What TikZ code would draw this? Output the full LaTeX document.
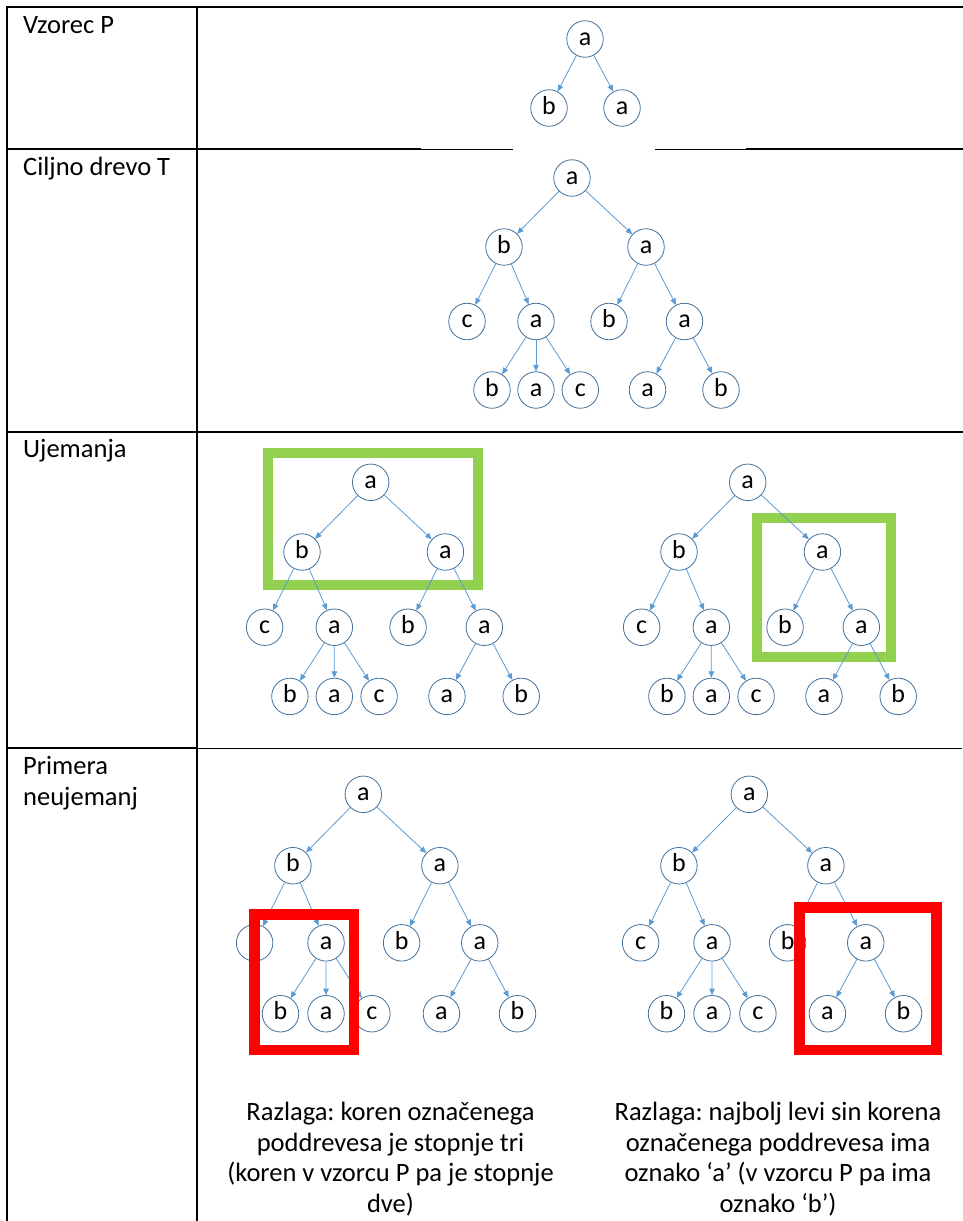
\documentclass[tikz,border=0pt]{standalone}
\usepackage{fontspec}
\setmainfont{Carlito}
\frenchspacing
\usetikzlibrary{arrows.meta}
\definecolor{nodeline}{HTML}{41719C}
\definecolor{edgeblue}{HTML}{5B9BD5}
\definecolor{matchgreen}{HTML}{92D050}
\definecolor{failred}{HTML}{FF0000}

% one full target tree: #1 name prefix, #2/#3 root position, #4 spread
\newcommand\targettree[4]{%
  \begin{scope}[shift={(#2,#3)}, scale=#4]
    \node[vert] (#1r)  at (0,0)         {a};
    \node[vert] (#1b1) at (-68,69)      {b};
    \node[vert] (#1a1) at (74,69)       {a};
    \node[vert] (#1c2) at (-105,143.5)  {c};
    \node[vert] (#1a2) at (-36,143.5)   {a};
    \node[vert] (#1b2) at (37,143.5)    {b};
    \node[vert] (#1a3) at (112.5,143.5) {a};
    \node[vert] (#1b3) at (-80,212)     {b};
    \node[vert] (#1a4) at (-36,212)     {a};
    \node[vert] (#1c3) at (8.3,212)     {c};
    \node[vert] (#1a5) at (75.5,212)    {a};
    \node[vert] (#1b4) at (149,212)     {b};
    \draw[link] (#1r) -- (#1b1);
    \draw[link] (#1r) -- (#1a1);
    \draw[link] (#1b1) -- (#1c2);
    \draw[link] (#1b1) -- (#1a2);
    \draw[link] (#1a1) -- (#1b2);
    \draw[link] (#1a1) -- (#1a3);
    \draw[link] (#1a2) -- (#1b3);
    \draw[link] (#1a2) -- (#1a4);
    \draw[link] (#1a2) -- (#1c3);
    \draw[link] (#1a3) -- (#1a5);
    \draw[link] (#1a3) -- (#1b4);
  \end{scope}}

\begin{document}
\begin{tikzpicture}[x=1pt, y=-1pt,
  vert/.style={circle, draw=nodeline, line width=0.8pt, fill=white,
    minimum size=36.5pt, inner sep=0pt, text height=12.5pt, text depth=0pt,
    font=\fontsize{26}{26}\selectfont},
  link/.style={draw=edgeblue, line width=0.8pt, -{Triangle[length=6.5pt,width=5.5pt]}},
  thickrule/.style={line width=2.3pt, line cap=rect},
  thinrule/.style={line width=1pt},
  label/.style={anchor=base west, inner sep=0pt, font=\fontsize{26.5}{31}\selectfont},
  note/.style={align=center, inner sep=0pt, font=\fontsize{26.5}{30.5}\selectfont},
  matchbox/.style={draw=matchgreen, line width=10pt},
  failbox/.style={draw=failred, line width=10.5pt}]

\useasboundingbox (0,0) rectangle (962,1221);
\fill[white] (0,0) rectangle (962,1221);

% table rules
\draw[thickrule] (962,7) -- (7,7) -- (7,1221);
\draw[thickrule] (197,7) -- (197,1221);
\draw[thickrule] (7,149) -- (420,149);
\draw[thinrule] (420,149) -- (513,149);
\draw[thinrule] (655,149) -- (747,149);
\draw[thickrule] (747,149) -- (962,149);
\draw[thickrule] (7,432) -- (962,432);
\draw[thickrule] (7,748) -- (197,748);
\draw[thinrule] (197,748) -- (962,748);

% row titles
\node[label] (lp) at (23,33)  {Vzorec P};
\node[label] (lt) at (23,175) {Ciljno drevo T};
\node[label] (lu) at (23,457) {Ujemanja};
\node[label] (ln1) at (23,774) {Primera};
\node[label] (ln2) at (23,805) {neujemanj};

% pattern P
\node[vert] (pr) at (585,39)  {a};
\node[vert] (pb) at (549,108) {b};
\node[vert] (pa) at (622,108) {a};
\draw[link] (pr) -- (pb);
\draw[link] (pr) -- (pa);

% target tree T
\targettree{t}{572}{178}{1}

% matches
\draw[matchbox] (268.3,453.3) rectangle (478,585);
\draw[matchbox] (757.3,518.3) rectangle (891,656.7);
\targettree{m}{370.7}{482.3}{1.01}
\targettree{n}{747.7}{482.3}{1.01}

% non-matches
\targettree{x}{363.3}{794.3}{1.035}
\targettree{y}{749.3}{794.3}{1.035}
\draw[failbox] (254.7,914.3) rectangle (354.2,1050);
\draw[failbox] (799.7,907.7) rectangle (936.7,1050);

% explanations (base anchor sits on the last line)
\node[note, anchor=base] (e1) at (390.5,1212) {Razlaga: koren označenega\\poddrevesa je stopnje tri\\(koren v vzorcu P pa je stopnje\\dve)};
\node[note, anchor=base] (e2) at (778,1212) {Razlaga: najbolj levi sin korena\\označenega poddrevesa ima\\oznako ‘a’ (v vzorcu P pa ima\\oznako ‘b’)};
\end{tikzpicture}
\end{document}
